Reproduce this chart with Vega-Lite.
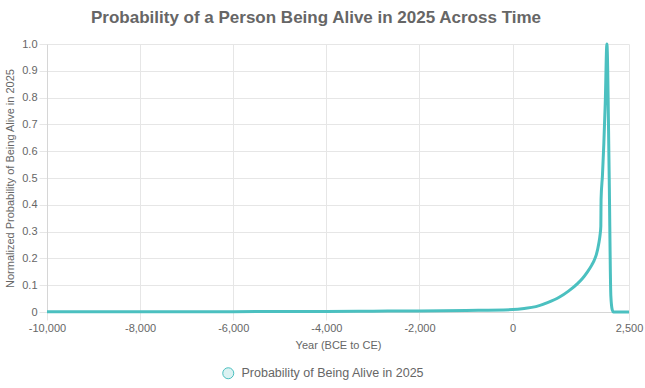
{
  "$schema": "https://vega.github.io/schema/vega-lite/v6.json",
  "autosize": {"type": "none"},
  "width": 582,
  "height": 268,
  "padding": {"top": 44, "left": 47, "right": 16, "bottom": 76},
  "background": "white",
  "title": {
    "text": "Probability of a Person Being Alive in 2025 Across Time",
    "font": "Liberation Sans",
    "fontSize": 17,
    "fontWeight": "bold",
    "color": "#666666",
    "anchor": "middle",
    "frame": "group",
    "dx": -22,
    "offset": 11
  },
  "config": {
    "view": {"stroke": null},
    "axis": {
      "labelFont": "Liberation Sans",
      "titleFont": "Liberation Sans",
      "labelColor": "#666666",
      "titleColor": "#666666",
      "labelFontSize": 11,
      "titleFontSize": 11,
      "titleFontWeight": "normal",
      "gridColor": "#e6e6e6",
      "tickColor": "#e6e6e6",
      "domainColor": "#d6d6d6",
      "tickSize": 8,
      "labelPadding": 2
    },
    "legend": {
      "labelFont": "Liberation Sans",
      "labelColor": "#666666"
    }
  },
  "data": {
    "values": [
      {"year": -10000, "p": 0.0005, "series": "Probability of Being Alive in 2025"},
      {"year": -8000, "p": 0.0008, "series": "Probability of Being Alive in 2025"},
      {"year": -6000, "p": 0.0013, "series": "Probability of Being Alive in 2025"},
      {"year": -4000, "p": 0.002, "series": "Probability of Being Alive in 2025"},
      {"year": -3000, "p": 0.003, "series": "Probability of Being Alive in 2025"},
      {"year": -2000, "p": 0.004, "series": "Probability of Being Alive in 2025"},
      {"year": -1000, "p": 0.006, "series": "Probability of Being Alive in 2025"},
      {"year": 0, "p": 0.009, "series": "Probability of Being Alive in 2025"},
      {"year": 250, "p": 0.013, "series": "Probability of Being Alive in 2025"},
      {"year": 500, "p": 0.02, "series": "Probability of Being Alive in 2025"},
      {"year": 750, "p": 0.035, "series": "Probability of Being Alive in 2025"},
      {"year": 1000, "p": 0.055, "series": "Probability of Being Alive in 2025"},
      {"year": 1200, "p": 0.078, "series": "Probability of Being Alive in 2025"},
      {"year": 1400, "p": 0.107, "series": "Probability of Being Alive in 2025"},
      {"year": 1500, "p": 0.125, "series": "Probability of Being Alive in 2025"},
      {"year": 1600, "p": 0.148, "series": "Probability of Being Alive in 2025"},
      {"year": 1700, "p": 0.175, "series": "Probability of Being Alive in 2025"},
      {"year": 1750, "p": 0.192, "series": "Probability of Being Alive in 2025"},
      {"year": 1800, "p": 0.215, "series": "Probability of Being Alive in 2025"},
      {"year": 1850, "p": 0.255, "series": "Probability of Being Alive in 2025"},
      {"year": 1880, "p": 0.29, "series": "Probability of Being Alive in 2025"},
      {"year": 1895, "p": 0.32, "series": "Probability of Being Alive in 2025"},
      {"year": 1900, "p": 0.42, "series": "Probability of Being Alive in 2025"},
      {"year": 1930, "p": 0.51, "series": "Probability of Being Alive in 2025"},
      {"year": 1960, "p": 0.63, "series": "Probability of Being Alive in 2025"},
      {"year": 1990, "p": 0.78, "series": "Probability of Being Alive in 2025"},
      {"year": 2025, "p": 1.0, "series": "Probability of Being Alive in 2025"},
      {"year": 2075, "p": 0.5, "series": "Probability of Being Alive in 2025"},
      {"year": 2110, "p": 0.06, "series": "Probability of Being Alive in 2025"},
      {"year": 2140, "p": 0.008, "series": "Probability of Being Alive in 2025"},
      {"year": 2165, "p": 0, "series": "Probability of Being Alive in 2025"},
      {"year": 2300, "p": 0, "series": "Probability of Being Alive in 2025"},
      {"year": 2500, "p": 0, "series": "Probability of Being Alive in 2025"}
    ]
  },
  "mark": {"type": "line", "interpolate": "monotone", "strokeWidth": 3},
  "encoding": {
    "x": {
      "field": "year",
      "type": "quantitative",
      "scale": {"domain": [-10000, 2500], "nice": false, "zero": false},
      "axis": {
        "title": "Year (BCE to CE)",
        "values": [-10000, -8000, -6000, -4000, -2000, 0, 2500],
        "labelExpr": "(datum.value < 0 ? '-' : '') + format(abs(datum.value), ',')",
        "titlePadding": 6,
        "labelFlush": false,
        "labelOverlap": false
      }
    },
    "y": {
      "field": "p",
      "type": "quantitative",
      "scale": {"domain": [0, 1], "nice": false},
      "axis": {
        "title": "Normalized Probability of Being Alive in 2025",
        "values": [0, 0.1, 0.2, 0.3, 0.4, 0.5, 0.6, 0.7, 0.8, 0.9, 1.0],
        "labelExpr": "datum.value == 0 ? '0' : format(datum.value, '.1f')",
        "titlePadding": 6,
        "labelOverlap": false
      }
    },
    "color": {
      "field": "series",
      "type": "nominal",
      "scale": {"range": ["#4bc0c0"]},
      "legend": {
        "title": null,
        "orient": "none",
        "legendX": 175,
        "legendY": 323,
        "padding": 0,
        "symbolType": "circle",
        "symbolSize": 121,
        "symbolFillColor": "rgba(75,192,192,0.2)",
        "symbolStrokeColor": "#4bc0c0",
        "symbolStrokeWidth": 1,
        "labelFontSize": 12.5,
        "labelOffset": 7,
        "labelLimit": 0
      }
    }
  }
}
